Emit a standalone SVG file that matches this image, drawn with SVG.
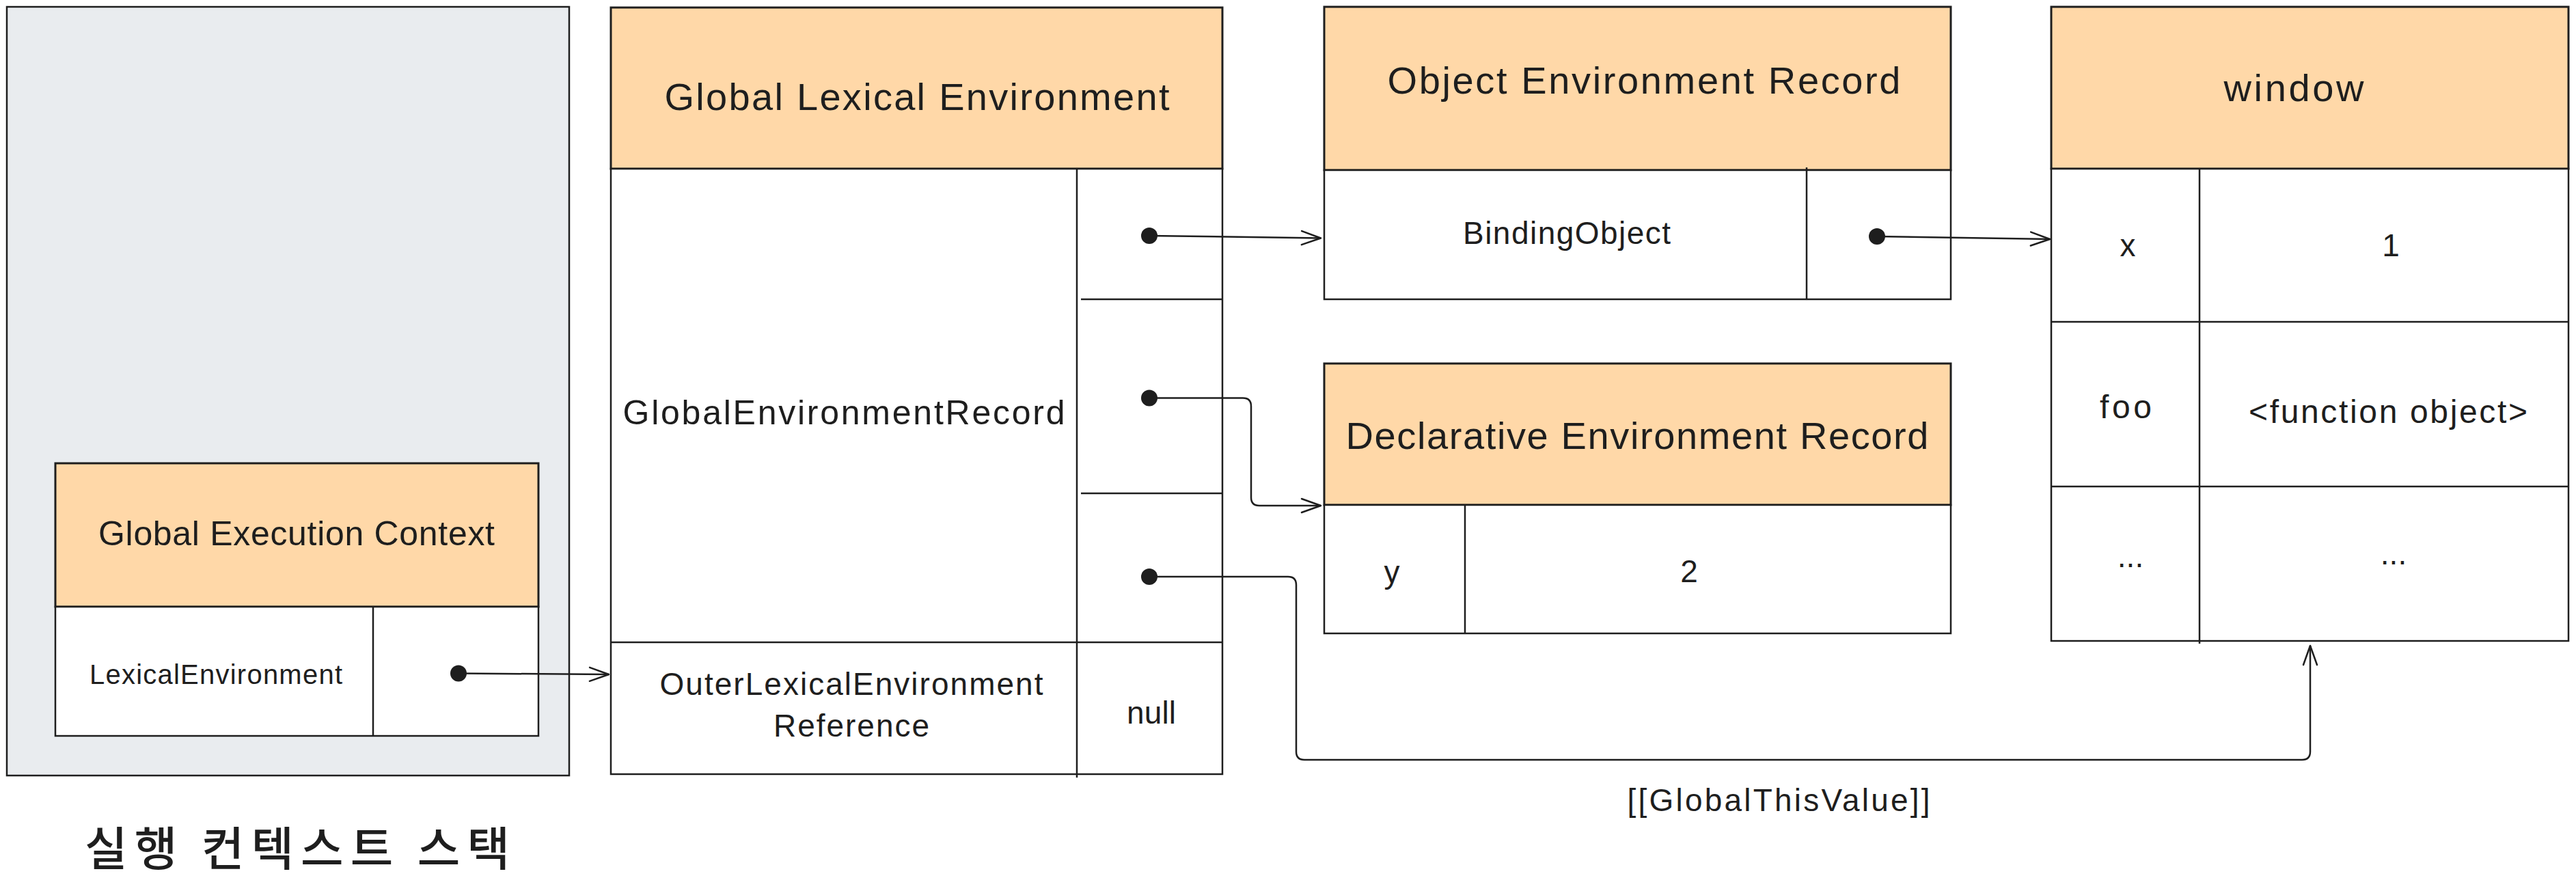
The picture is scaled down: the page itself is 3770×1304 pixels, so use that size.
<svg xmlns="http://www.w3.org/2000/svg" width="3770" height="1304" viewBox="0 0 3770 1304">
<style>
.bg{fill:#ffffff}
.stack{fill:#e9ecef;stroke:#1e1e1e;stroke-width:2.5}
.hdr{fill:#ffd8a8;stroke:#1e1e1e;stroke-width:3}
.cell{fill:#ffffff;stroke:#1e1e1e;stroke-width:2.5}
.ln{fill:none;stroke:#1e1e1e;stroke-width:2.5}
.conn{fill:none;stroke:#1e1e1e;stroke-width:2.5}
.dot{fill:#1e1e1e}
text{font-family:"Liberation Sans",Arial,sans-serif;fill:#1e1e1e;text-anchor:middle}
.kr{font-family:"Noto Sans CJK KR","Noto Sans",sans-serif;font-weight:500}
</style>
<defs>
<marker id="ah" markerUnits="userSpaceOnUse" markerWidth="40" markerHeight="30" viewBox="-32 -15 36 30" refX="0" refY="0" orient="auto">
<path d="M -28 -10 L 0 0 L -28 10" fill="none" stroke="#1e1e1e" stroke-width="2.5" stroke-linecap="round" stroke-linejoin="round"/>
</marker>
</defs>
<rect class="bg" x="0" y="0" width="3770" height="1304"/>

<g id="execution-context-stack">
<rect class="stack" x="10" y="10" width="823" height="1125"/>
<text class="kr" x="435" y="1267" font-size="68" textLength="622">실행 컨텍스트 스택</text>
</g>

<g id="global-execution-context">
<rect class="hdr" x="81" y="678" width="707" height="210"/>
<rect class="cell" x="81" y="888" width="707" height="189"/>
<line class="ln" x1="546" y1="888" x2="546" y2="1077"/>
<text x="434" y="798" font-size="50" textLength="580">Global Execution Context</text>
<text x="316" y="1001" font-size="40" textLength="370">LexicalEnvironment</text>
</g>

<g id="global-lexical-environment">
<rect class="hdr" x="894" y="11" width="895" height="236"/>
<rect class="cell" x="894" y="247" width="895" height="886"/>
<line class="ln" x1="1576" y1="247" x2="1576" y2="1138"/>
<line class="ln" x1="1582" y1="438" x2="1790" y2="438"/>
<line class="ln" x1="1582" y1="722" x2="1790" y2="722"/>
<line class="ln" x1="894" y1="940" x2="1790" y2="940"/>
<text x="1342" y="161" font-size="56" textLength="739">Global Lexical Environment</text>
<text x="1235" y="621" font-size="50" textLength="647">GlobalEnvironmentRecord</text>
<text x="1246" y="1017" font-size="46" textLength="561">OuterLexicalEnvironment</text>
<text x="1246" y="1078" font-size="46" textLength="228">Reference</text>
<text x="1685" y="1059" font-size="46" textLength="72">null</text>
</g>

<g id="object-environment-record">
<rect class="hdr" x="1938" y="10" width="917" height="239"/>
<rect class="cell" x="1938" y="249" width="917" height="189"/>
<line class="ln" x1="2644" y1="245" x2="2644" y2="438"/>
<text x="2406" y="137" font-size="56" textLength="751">Object Environment Record</text>
<text x="2293" y="357" font-size="46" textLength="304">BindingObject</text>
</g>

<g id="declarative-environment-record">
<rect class="hdr" x="1938" y="532" width="917" height="207"/>
<rect class="cell" x="1938" y="739" width="917" height="188"/>
<line class="ln" x1="2144" y1="739" x2="2144" y2="927"/>
<text x="2396" y="657" font-size="56" textLength="853">Declarative Environment Record</text>
<text x="2037" y="853" font-size="46">y</text>
<text x="2472" y="852" font-size="46">2</text>
</g>

<g id="window">
<rect class="hdr" x="3002" y="10" width="757" height="237"/>
<rect class="cell" x="3002" y="247" width="757" height="691"/>
<line class="ln" x1="3002" y1="471" x2="3759" y2="471"/>
<line class="ln" x1="3002" y1="712" x2="3759" y2="712"/>
<line class="ln" x1="3219" y1="247" x2="3219" y2="942"/>
<text x="3357" y="148" font-size="56" textLength="205">window</text>
<text x="3114" y="375" font-size="46">x</text>
<text x="3499" y="375" font-size="46">1</text>
<text x="3111" y="612" font-size="48" textLength="76">foo</text>
<text x="3495" y="619" font-size="48" textLength="408">&lt;function object&gt;</text>
<text x="3118" y="830" font-size="46">...</text>
<text x="3503" y="826" font-size="46">...</text>
</g>

<g id="connectors">
<path class="conn" d="M 671 985.5 L 891 987" marker-end="url(#ah)"/>
<path class="conn" d="M 1682 345 L 1933 348.5" marker-end="url(#ah)"/>
<path class="conn" d="M 1682 582.5 L 1819 582.5 Q 1831 582.5 1831 594.5 L 1831 728 Q 1831 740 1843 740 L 1933 740" marker-end="url(#ah)"/>
<path class="conn" d="M 1682 844 L 1885 844 Q 1897 844 1897 856 L 1897 1100 Q 1897 1112 1909 1112 L 3369 1112 Q 3381 1112 3381 1100 L 3381 945" marker-end="url(#ah)"/>
<path class="conn" d="M 2747 346 L 3000 350" marker-end="url(#ah)"/>
<circle class="dot" cx="671" cy="985.5" r="12"/>
<circle class="dot" cx="1682" cy="345" r="12"/>
<circle class="dot" cx="1682" cy="582.5" r="12"/>
<circle class="dot" cx="1682" cy="844" r="12"/>
<circle class="dot" cx="2747" cy="346" r="12"/>
<text x="2603" y="1187" font-size="46" textLength="443">[[GlobalThisValue]]</text>
</g>
</svg>
